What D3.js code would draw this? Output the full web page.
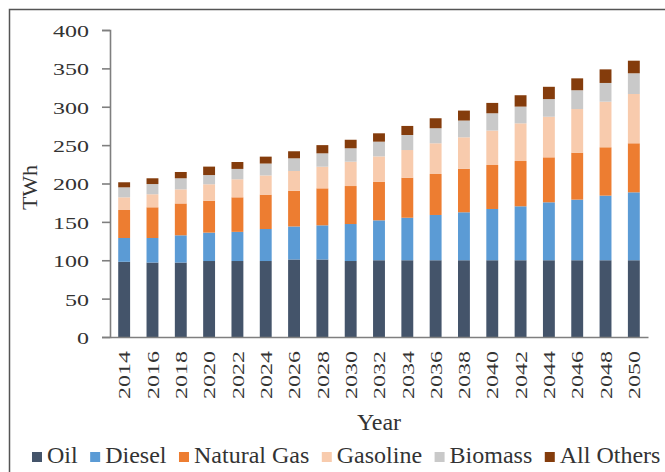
<!DOCTYPE html>
<html>
<head>
<meta charset="utf-8">
<script src="https://cdn.jsdelivr.net/npm/d3@7"></script>
<style>
  body { margin: 0; background: #fff; }
  svg { display: block; }
  svg text { font-family: "Liberation Serif", "Times New Roman", Times, serif; }
</style>
</head>
<body>
<svg class="chart" width="665" height="472"></svg>
<script>
// values (TWh)
let years = ["2014","2016","2018","2020","2022","2024","2026","2028","2030","2032",
             "2034","2036","2038","2040","2042","2044","2046","2048","2050"];
let oil      = [98, 97, 97, 99, 99, 99, 101, 101, 99, 100, 100, 100, 100, 100, 100, 100, 100, 100, 100];
let diesel   = [31, 32, 35.5, 37, 38, 41.7, 43, 44.5, 48.2, 52, 55.4, 59, 62.5, 66.8, 70.3, 75.5, 79, 84.2, 88.5];
let natGas   = [36.5, 40, 41.5, 41.6, 45, 44.8, 46.6, 48.2, 49.5, 50.4, 52.2, 53.4, 56.8, 57.3, 59, 58.6, 61.2, 63, 63.9];
let gasoline = [16.5, 17, 18.4, 21.4, 23.5, 25, 25.7, 28.2, 31.7, 32.9, 36, 40, 40.9, 44.9, 49.1, 52.9, 56.8, 59.4, 64.2];
let biomass  = [13, 13.3, 14.4, 12, 13.5, 15.5, 16.5, 17.4, 17.5, 19.2, 19.6, 19.6, 21.8, 22.5, 21.8, 23, 24.5, 24.4, 27];
let others   = [6.6, 7.5, 8.2, 11, 9, 9, 9.2, 10.7, 11.1, 10.9, 11.8, 13, 13, 13.5, 14.8, 16, 15.5, 17.7, 16.4];
let seriesNames = ["Oil", "Diesel", "Natural Gas", "Gasoline", "Biomass", "All Others"];
let yTicks = [0, 50, 100, 150, 200, 250, 300, 350, 400];

let colors = ["#44546a", "#5b9bd5", "#ed7d31", "#f8cbad", "#c9c9c9", "#843c0c"];
let serif = "'Liberation Serif', 'Times New Roman', Times, serif";

let svg = d3.select("svg.chart");

// scanned frame (top + left edge)
svg.append("path")
  .attr("d", "M9.5,472 V9.5 H665")
  .attr("fill", "none")
  .attr("stroke", "#555")
  .attr("stroke-width", 1.5);

let plotLeft = 110, plotRight = 648, plotTop = 30, plotBottom = 337;

// build rows for the stack
let allSeries = [oil, diesel, natGas, gasoline, biomass, others];
let rows = years.map((yr, i) => {
  let r = { year: yr };
  seriesNames.forEach((n, k) => r[n] = allSeries[k][i]);
  return r;
});
let stacked = d3.stack().keys(seriesNames)(rows);

let x = d3.scaleBand()
  .domain(years)
  .range([plotLeft, plotRight])
  .paddingInner(0.58)
  .paddingOuter(0.29);
let y = d3.scaleLinear()
  .domain([0, 400])
  .range([plotBottom, plotTop]);
let color = d3.scaleOrdinal().domain(seriesNames).range(colors);

// bars
let layers = svg.append("g").attr("id", "bars")
  .selectAll("g")
  .data(stacked)
  .join("g")
  .attr("fill", d => color(d.key));
layers.selectAll("rect")
  .data(d => d)
  .join("rect")
  .attr("x", d => x(d.data.year))
  .attr("width", x.bandwidth())
  .attr("y", d => y(d[1]))
  .attr("height", d => y(d[0]) - y(d[1]));

// y axis
let yAxis = d3.axisLeft(y).tickValues(yTicks).tickSize(8).tickSizeOuter(8).tickPadding(13);
let yGroup = svg.append("g").attr("transform", translate(plotLeft, 0)).call(yAxis);
yGroup.attr("font-family", serif);
yGroup.select(".domain").attr("stroke", "#7f7f7f").attr("stroke-width", 1.6);
yGroup.selectAll(".tick line").attr("stroke", "#7f7f7f").attr("stroke-width", 1.6);
yGroup.selectAll(".tick text")
  .attr("font-size", 24)
  .attr("fill", "#333")
  .attr("dy", "0.36em")
  .attr("transform", "scale(1,0.74)");

// x axis
let xAxis = d3.axisBottom(x).tickSize(0).tickSizeOuter(0);
let xGroup = svg.append("g").attr("transform", translate(0, plotBottom)).call(xAxis);
xGroup.attr("font-family", serif);
xGroup.select(".domain").attr("stroke", "#7f7f7f").attr("stroke-width", 1.6);
xGroup.selectAll(".tick text")
  .attr("font-size", 24)
  .attr("fill", "#333")
  .attr("text-anchor", "end")
  .attr("x", -14)
  .attr("y", 0)
  .attr("dy", "0.35em")
  .attr("transform", "rotate(-90) scale(1,0.74)");

// axis titles
svg.append("text")
  .attr("transform", "translate(37,187.5) rotate(-90)")
  .attr("text-anchor", "middle")
  .attr("font-size", 22)
  .attr("fill", "#333")
  .text("TWh");
svg.append("text")
  .attr("x", (plotLeft + plotRight) / 2)
  .attr("y", 430)
  .attr("text-anchor", "middle")
  .attr("font-size", 24)
  .attr("fill", "#333")
  .text("Year");

// legend, laid out left to right from the left edge
let legend = svg.append("g").attr("id", "legend");
let items = legend.selectAll("g").data(seriesNames).join("g");
items.append("rect")
  .attr("width", 10).attr("height", 10)
  .attr("y", 452)
  .attr("fill", d => color(d));
items.append("text")
  .attr("x", 15)
  .attr("y", 463)
  .attr("font-size", 24)
  .attr("fill", "#333")
  .text(d => d);
let widths = [];
items.each(function() { widths.push(15 + d3.select(this).select("text").node().getComputedTextLength()); });
let gap = 12.5;
let xPos = 32;
items.each(function(d, i) {
  d3.select(this).attr("transform", translate(xPos, 0));
  xPos += widths[i] + gap;
});

function translate(x, y) {
  return 'translate(' + x + ',' + y + ')';
}
</script>
</body>
</html>
